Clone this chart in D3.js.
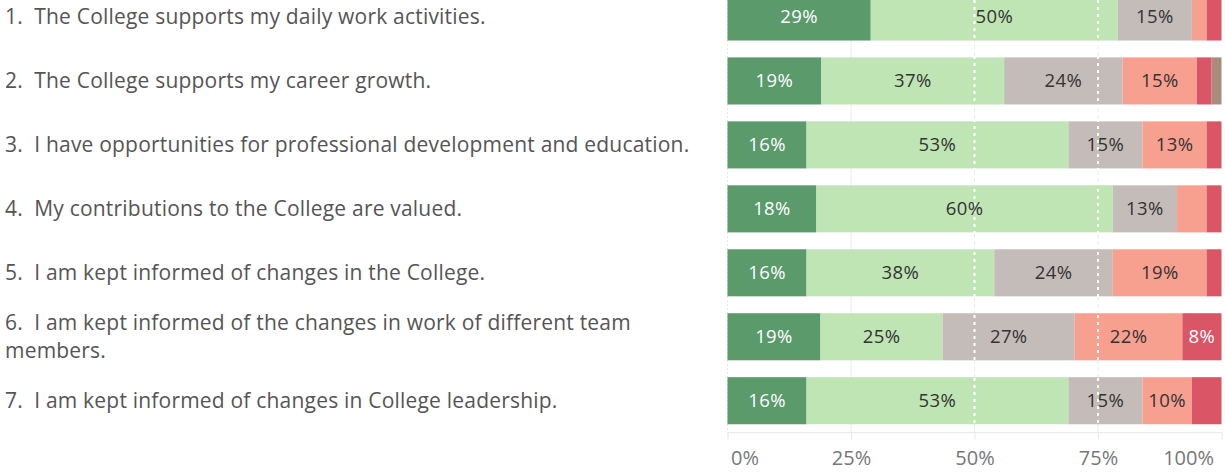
<!DOCTYPE html>
<html>
<head>
<meta charset="utf-8">
<script src="https://cdn.jsdelivr.net/npm/d3@7"></script>
<style>
  html, body { margin: 0; padding: 0; background: #fff; }
  svg { display: block; }
  text { font-family: "Open Sans", "Noto Sans", sans-serif; }
</style>
</head>
<body>
<svg id="chart" width="1225" height="472"></svg>
<script>
// Survey statements (rows, top to bottom)
const questions = [
  "1.  The College supports my daily work activities.",
  "2.  The College supports my career growth.",
  "3.  I have opportunities for professional development and education.",
  "4.  My contributions to the College are valued.",
  "5.  I am kept informed of changes in the College.",
  "6.  I am kept informed of the changes in work of different team members.",
  "7.  I am kept informed of changes in College leadership."
];

// Response categories, in stacking order
const responses = ["Strongly Agree", "Agree", "Neutral", "Disagree", "Strongly Disagree", "No Answer"];

// Percent of respondents per response, one array per response (same order as questions)
const stronglyAgree    = [29, 19, 16, 18, 16, 19, 16];
const agree            = [50, 37, 53, 60, 38, 25, 53];
const neutral          = [15, 24, 15, 13, 24, 27, 15];
const disagree         = [3, 15, 13, 6, 19, 22, 10];
const stronglyDisagree = [3, 3, 3, 3, 3, 8, 6];
const noAnswer         = [0, 2, 0, 0, 0, 0, 0];

const axisTicks = [0, 0.25, 0.5, 0.75, 1];
const referenceLines = [0.5, 0.75];

const colors = ["#5a9a6b", "#c0e5b4", "#c4bcb9", "#f8a08f", "#da5565", "#a98b7d"];
const labelColors = ["#ffffff", "#333333", "#333333", "#333333", "#ffffff", "#333333"];

const seriesValues = [stronglyAgree, agree, neutral, disagree, stronglyDisagree, noAnswer];
const rows = questions.map((q, i) => {
  const r = { question: q };
  responses.forEach((k, j) => { r[k] = seriesValues[j][i]; });
  return r;
});

const svg = d3.select("#chart");

const x = d3.scaleLinear().domain([0, 1]).range([727.5, 1221.5]);
const y = d3.scaleBand()
  .domain(questions)
  .range([-15, 432.7])
  .paddingInner(0.264)
  .paddingOuter(0.132);

const stack = d3.stack().keys(responses).offset(d3.stackOffsetExpand);
const layers = stack(rows);

// Light gridlines
svg.append("g")
  .selectAll("line")
  .data([0.25, 0.5, 0.75])
  .join("line")
  .attr("x1", d => x(d)).attr("x2", d => x(d))
  .attr("y1", 0).attr("y2", 432.7)
  .attr("stroke", "#ebebeb")
  .attr("stroke-width", 1);

// Faint dotted line at the left edge of the bars
svg.append("line")
  .attr("x1", x(0)).attr("x2", x(0))
  .attr("y1", 0).attr("y2", 432.7)
  .attr("stroke", "#e6e6e6")
  .attr("stroke-dasharray", "2,2");

// Stacked bars
const layerG = svg.append("g")
  .selectAll("g")
  .data(layers)
  .join("g")
  .attr("fill", (d, i) => colors[i]);

layerG.selectAll("rect")
  .data(d => d.map(s => ({ s, q: s.data.question })))
  .join("rect")
  .attr("x", d => x(d.s[0]))
  .attr("width", d => Math.max(0, x(d.s[1]) - x(d.s[0])))
  .attr("y", d => y(d.q))
  .attr("height", y.bandwidth());

// White dotted reference lines across the bars
svg.append("g")
  .selectAll("line")
  .data(referenceLines)
  .join("line")
  .attr("x1", d => x(d)).attr("x2", d => x(d))
  .attr("y1", 0).attr("y2", 424)
  .attr("stroke", "#ffffff")
  .attr("stroke-width", 2)
  .attr("stroke-dasharray", "3,4");

// Value labels inside segments
layers.forEach((layer, i) => {
  svg.append("g")
    .selectAll("text")
    .data(layer.filter(s => s.data[responses[i]] >= 8))
    .join("text")
    .attr("x", s => (x(s[0]) + x(s[1])) / 2)
    .attr("y", s => y(s.data.question) + y.bandwidth() / 2)
    .attr("dy", "0.35em")
    .attr("text-anchor", "middle")
    .attr("font-size", 18.5)
    .attr("letter-spacing", 0.4)
    .attr("fill", labelColors[i])
    .text(s => s.data[responses[i]] + "%");
});

// Bottom axis
const axisY = 432.7;
svg.append("line")
  .attr("x1", x(0)).attr("x2", x(1))
  .attr("y1", axisY).attr("y2", axisY)
  .attr("stroke", "#e6e6e6");

const axisG = svg.append("g").attr("transform", `translate(0,${axisY})`)
  .call(d3.axisBottom(x).tickValues(axisTicks).tickFormat(d3.format(".0%")).tickSize(7).tickPadding(11));
axisG.select(".domain").remove();
axisG.selectAll(".tick line").attr("stroke", "#e6e6e6");
axisG.selectAll(".tick text")
  .attr("font-size", 20)
  .attr("font-family", "'Open Sans', 'Noto Sans', sans-serif")
  .attr("fill", "#777777")
  .attr("text-anchor", (d, i) => i === 0 ? "start" : (i === axisTicks.length - 1 ? "end" : "middle"))
  .attr("dx", (d, i) => i === 0 ? 3 : (i === axisTicks.length - 1 ? -8 : 0));

// Question labels with word wrapping
const labelG = svg.append("g");
const maxWidth = 700;
questions.forEach(q => {
  const t = labelG.append("text")
    .attr("x", 5)
    .attr("font-size", 21)
    .attr("letter-spacing", 0.2)
    .attr("fill", "#555555")
    .style("white-space", "pre");
  const words = q.split(" ");
  const lines = [];
  let line = "";
  const probe = t.append("tspan");
  words.forEach(w => {
    const test = line === "" ? w : line + " " + w;
    probe.text(test);
    if (probe.node().getComputedTextLength() > maxWidth && line !== "") {
      lines.push(line);
      line = w;
    } else {
      line = test;
    }
  });
  lines.push(line);
  probe.remove();
  const lh = 28;
  const cy = y(q) + y.bandwidth() / 2 - (lines.length - 1) * lh / 2;
  lines.forEach((l, k) => {
    t.append("tspan")
      .attr("x", 5)
      .attr("y", cy + k * lh)
      .attr("dy", "0.35em")
      .text(l);
  });
});
</script>
</body>
</html>
